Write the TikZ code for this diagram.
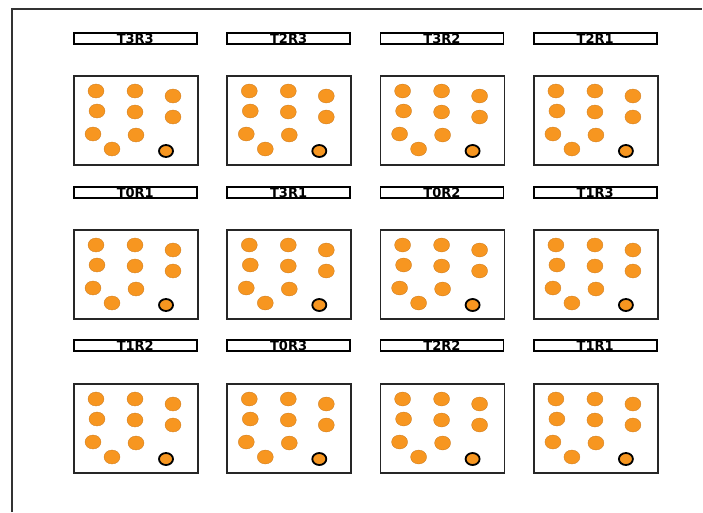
\documentclass[tikz,border=0pt]{standalone}
\usepackage{fontspec}
\newfontfamily\labfont{DejaVu Sans}
\definecolor{dotfill}{RGB}{247,150,32}
\definecolor{dotedge}{RGB}{200,120,30}
\tikzset{
  labbox/.style={draw=black, line width=1.6pt, minimum width=123pt, minimum height=11pt, inner sep=0pt, text height=9.4pt, text depth=0pt, anchor=north west, font=\labfont\bfseries\fontsize{13}{13}\selectfont},
  wellbox/.style={draw=black!85, line width=1.6pt, minimum width=124pt, minimum height=89pt, inner sep=0pt, anchor=north west},
  dotn/.style={ellipse, fill=dotfill, draw=dotedge, line width=0.3pt, minimum width=16pt, minimum height=14pt, inner sep=0pt},
  dotm/.style={ellipse, fill=dotfill, draw=black, line width=1.8pt, minimum width=14pt, minimum height=12pt, inner sep=0pt},
  frameline/.style={draw=black!80, line width=1.6pt}
}
\usetikzlibrary{shapes.geometric}
\begin{document}
\begin{tikzpicture}[x=1pt,y=-1pt]
\useasboundingbox (0,0) rectangle (703,512);
\coordinate (fa) at (12,512);
\coordinate (fb) at (12,9);
\coordinate (fc) at (702,9);
\draw[frameline] (fa) -- (fb) -- (fc);
\def\labels{{"T3R3","T2R3","T3R2","T2R1"},{"T0R1","T3R1","T0R2","T1R3"},{"T1R2","T0R3","T2R2","T1R1"}}
\foreach \r/\ly/\by in {0/32/75,1/186/229,2/339/383}{
  \foreach \c in {0,1,2,3}{
    \pgfmathsetmacro{\xx}{73+153.3*\c}
    \pgfmathsetmacro{\lab}{{\labels}[\r][\c]}
    \node[labbox] (L\r\c) at (\xx,\ly) {\lab};
    \node[wellbox] (B\r\c) at (\xx,\by) {};
    \foreach \dx/\dy [count=\k] in {23/16,62/16,100/21,24/36,62/37,100/42,20/59,63/60,39/74}{
      \node[dotn] (D\r\c\k) at (\xx+\dx,\by+\dy) {};
    }
    \node[dotm] (M\r\c) at (\xx+93,\by+76) {};
  }
}
\end{tikzpicture}
\end{document}
